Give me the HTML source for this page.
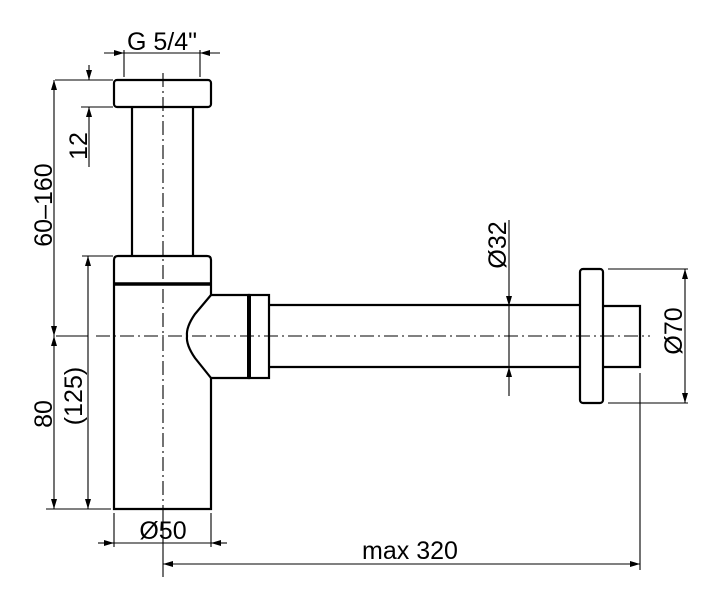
<!DOCTYPE html>
<html><head><style>body{margin:0;background:#fff}svg{display:block}</style></head><body>
<svg width="720" height="603" viewBox="0 0 720 603" xmlns="http://www.w3.org/2000/svg" font-family="Liberation Sans, DejaVu Sans, sans-serif" font-size="25" fill="#000">
<defs>
<marker id="a" viewBox="0 0 10 6" refX="10" refY="3" markerWidth="10" markerHeight="6" orient="auto-start-reverse" markerUnits="userSpaceOnUse"><path d="M0,0L10,3L0,6z"/></marker>
</defs>
<g fill="none" stroke="#000" stroke-width="2.2">
<rect x="114" y="80" width="97" height="27" rx="3"/>
<line x1="132" y1="107" x2="132" y2="256"/><line x1="193" y1="107" x2="193" y2="256"/>
<path d="M114,509 V260 Q114,256 118,256 H207 Q211,256 211,260 V295 H249 V378 H211 V509 Z"/>
<path d="M211,295 L195,314 Q186,327 187,336 Q186,345 195,358 L211,378"/>
<line x1="114" y1="284" x2="211" y2="284" stroke-width="3.5"/>
<line x1="249" y1="295" x2="249" y2="378" stroke-width="4"/>
<rect x="249" y="295" width="20" height="83"/>
<line x1="269" y1="305" x2="580" y2="305"/><line x1="269" y1="367" x2="580" y2="367"/>
<rect x="580" y="269" width="23" height="134" rx="3"/>
<path d="M603,306 H640 V367 H603"/>
</g>
<g fill="none" stroke="#000" stroke-width="1.1">
<g stroke-dasharray="14,4,2,4">
<line x1="163" y1="73" x2="163" y2="515"/>
<line x1="96" y1="336" x2="650" y2="336"/>
</g>
<line x1="56" y1="336" x2="88" y2="336"/>
<line x1="124" y1="50" x2="124" y2="77"/><line x1="200" y1="50" x2="200" y2="77"/>
<line x1="104" y1="53" x2="124" y2="53" marker-end="url(#a)"/>
<line x1="220" y1="53" x2="200" y2="53" marker-end="url(#a)"/>
<line x1="124" y1="53" x2="200" y2="53"/>
<line x1="55" y1="80" x2="113" y2="80"/><line x1="81" y1="107" x2="113" y2="107"/>
<line x1="89" y1="65" x2="89" y2="80" marker-end="url(#a)"/>
<line x1="89" y1="167" x2="89" y2="107" marker-end="url(#a)"/>
<line x1="54" y1="80" x2="54" y2="336" marker-start="url(#a)" marker-end="url(#a)"/>
<line x1="54" y1="336" x2="54" y2="509" marker-start="url(#a)" marker-end="url(#a)"/>
<line x1="82" y1="256" x2="113" y2="256"/>
<line x1="88" y1="256" x2="88" y2="509" marker-start="url(#a)" marker-end="url(#a)"/>
<line x1="46" y1="509" x2="111" y2="509"/>
<line x1="114" y1="513" x2="114" y2="547"/><line x1="211" y1="513" x2="211" y2="547"/>
<line x1="98" y1="543" x2="114" y2="543" marker-end="url(#a)"/>
<line x1="227" y1="543" x2="211" y2="543" marker-end="url(#a)"/>
<line x1="114" y1="543" x2="211" y2="543"/>
<line x1="163" y1="515" x2="163" y2="577"/>
<line x1="640" y1="373" x2="640" y2="570"/>
<line x1="163" y1="564" x2="640" y2="564" marker-start="url(#a)" marker-end="url(#a)"/>
<line x1="509" y1="220" x2="509" y2="306" marker-end="url(#a)"/>
<line x1="509" y1="396" x2="509" y2="367" marker-end="url(#a)"/>
<line x1="509" y1="306" x2="509" y2="367"/>
<line x1="608" y1="269" x2="688" y2="269"/><line x1="608" y1="403" x2="688" y2="403"/>
<line x1="685" y1="269" x2="685" y2="403" marker-start="url(#a)" marker-end="url(#a)"/>
</g>
<text x="162" y="50" text-anchor="middle">G 5/4"</text>
<text x="0" y="0" transform="translate(87,146) rotate(-90)" text-anchor="middle">12</text>
<text x="0" y="0" transform="translate(52,205) rotate(-90)" text-anchor="middle">60–160</text>
<text x="0" y="0" transform="translate(52,414) rotate(-90)" text-anchor="middle">80</text>
<text x="0" y="0" transform="translate(82,396) rotate(-90)" text-anchor="middle">(125)</text>
<text x="163" y="539" text-anchor="middle">Ø50</text>
<text x="410" y="559" text-anchor="middle">max 320</text>
<text x="0" y="0" transform="translate(506,245) rotate(-90)" text-anchor="middle">Ø32</text>
<text x="0" y="0" transform="translate(682,331) rotate(-90)" text-anchor="middle">Ø70</text>
</svg>
</body></html>
